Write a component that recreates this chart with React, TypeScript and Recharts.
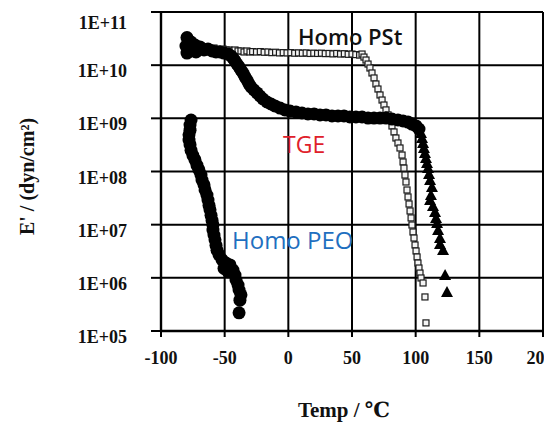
import React from "react";
import { ScatterChart, Scatter, XAxis, YAxis, CartesianGrid, Label } from "recharts";

// Temperature (°C), storage modulus E' (dyn/cm²)
const homoPSt: [number, number][] = [
  [-80.4, 2.5e10], [-78.8, 2.73e10], [-77.2, 2.29e10], [-74.9, 2.39e10], [-72.5, 2.2e10],
  [-70.2, 2.29e10], [-67.8, 2.1e10], [-65.4, 2.2e10], [-63.1, 2.1e10], [-60.7, 2.01e10],
  [-58.4, 2.1e10], [-56.0, 2.01e10], [-53.7, 1.93e10], [-51.3, 2.01e10], [-48.9, 1.93e10],
  [-46.6, 1.93e10], [-44.2, 1.85e10], [-41.9, 1.93e10], [-39.5, 1.85e10], [-37.2, 1.85e10],
  [-34.8, 1.77e10], [-32.5, 1.85e10], [-30.1, 1.77e10], [-28, 1.8e10], [-25, 1.77e10],
  [-22, 1.8e10], [-19, 1.75e10], [-16, 1.77e10], [-13, 1.72e10], [-10, 1.75e10],
  [-7, 1.7e10], [-4, 1.72e10], [-1, 1.7e10], [2, 1.72e10], [5, 1.68e10], [8, 1.7e10],
  [11, 1.68e10], [14, 1.7e10], [17, 1.66e10], [20, 1.68e10], [23, 1.66e10], [26, 1.68e10],
  [29, 1.65e10], [32, 1.66e10], [35, 1.63e10], [38, 1.66e10], [41, 1.62e10], [44, 1.64e10],
  [47, 1.6e10], [50, 1.62e10], [53, 1.58e10], [56, 1.55e10], [57.9, 1.62e10], [59.4, 1.42e10],
  [61.0, 1.25e10], [62.6, 1.05e10], [64.1, 8.85e9], [65.7, 7.13e9], [67.3, 5.74e9],
  [68.8, 4.43e9], [70.4, 3.56e9], [72.0, 2.75e9], [73.6, 2.21e9], [75.1, 1.78e9],
  [76.7, 1.44e9], [78.3, 1.16e9], [79.8, 9.31e8], [81.4, 7.18e8], [83.0, 5.54e8],
  [84.5, 4.27e8], [86.1, 3.44e8], [87.7, 2.77e8], [89.3, 2.04e8], [90.1, 1.51e8],
  [90.8, 1.16e8], [91.6, 8.59e7], [92.4, 6.35e7], [93.2, 4.49e7], [94.0, 3.32e7],
  [94.8, 2.45e7], [95.6, 1.81e7], [96.4, 1.34e7], [97.1, 9.86e6], [97.9, 7.28e6],
  [98.7, 5.61e6], [99.5, 4.15e6], [100.3, 3.2e6], [101.1, 2.47e6], [101.8, 1.9e6],
  [102.6, 1.53e6], [103.4, 1.23e6], [104.2, 9.94e5], [105.8, 8.0e5], [107.3, 4.37e5],
  [108.1, 1.42e5],
];

const tgeCircles: [number, number][] = [
  [-79.6, 3.3e10], [-80.4, 2.29e10], [-79.6, 1.69e10], [-76.4, 2.73e10], [-76.4, 1.85e10],
  [-73.3, 2.39e10], [-72.5, 1.77e10], [-69.4, 2.2e10], [-66.2, 1.93e10], [-63.1, 2.01e10],
  [-59.9, 1.85e10], [-56.8, 1.77e10], [-53.7, 1.77e10], [-50.5, 1.69e10], [-47.4, 1.62e10],
  [-45.0, 1.49e10], [-43.5, 1.36e10], [-41.9, 1.2e10], [-40.3, 1.05e10], [-38.7, 9.25e9],
  [-37.2, 8.1e9], [-35.6, 7.1e9], [-34.0, 6.0e9], [-32.5, 5.26e9], [-30.9, 4.43e9],
  [-29.3, 3.88e9], [-27.0, 3.41e9], [-24.6, 3.0e9], [-22.3, 2.63e9], [-19.9, 2.31e9],
  [-16.8, 2.03e9], [-13.6, 1.86e9], [-10.5, 1.71e9], [-6.5, 1.56e9], [-2.6, 1.44e9],
  [1.3, 1.37e9], [6.0, 1.32e9], [10.7, 1.26e9], [15.4, 1.21e9], [20.2, 1.21e9],
  [24.9, 1.16e9], [29.6, 1.16e9], [34.3, 1.11e9], [39.0, 1.11e9], [43.7, 1.11e9],
  [48.4, 1.06e9], [53.1, 1.06e9], [57.9, 1.06e9], [62.6, 1.01e9], [67.3, 1.01e9],
  [72.0, 1.01e9], [76.7, 1.01e9], [81.4, 9.7e8], [86.1, 9.3e8], [90.1, 8.9e8],
  [94.0, 8.5e8], [97.1, 7.8e8], [100.3, 7.2e8], [102.6, 6.3e8],
];

const tgeTriangles: [number, number][] = [
  [104.2, 5.3e8], [105.0, 4.27e8], [105.8, 3.44e8], [106.5, 2.77e8], [107.3, 2.23e8],
  [108.1, 1.79e8], [108.9, 1.45e8], [109.7, 1.16e8], [110.5, 8.98e7], [111.3, 6.92e7],
  [112.8, 5.12e7], [112.0, 3.61e7], [111.3, 2.91e7], [113.6, 2.25e7], [115.2, 1.73e7],
  [116.0, 1.34e7], [116.8, 1.08e7], [117.6, 7.94e6], [119.1, 5.61e6], [119.1, 4.33e6],
  [121.5, 3.34e6], [123.1, 1.13e6], [124.6, 5.42e5],
];

const homoPEO: [number, number][] = [
  [-76.4, 9.3e8], [-77.2, 7.5e8], [-77.2, 6.0e8], [-78.0, 4.9e8], [-78.0, 3.9e8],
  [-77.2, 3.2e8], [-76.4, 2.5e8], [-74.9, 2.0e8], [-73.3, 1.65e8], [-71.7, 1.3e8],
  [-70.2, 1.07e8], [-68.6, 8.6e7], [-67.8, 6.9e7], [-66.2, 5.6e7], [-65.4, 4.5e7],
  [-63.9, 3.6e7], [-63.1, 2.9e7], [-62.3, 2.3e7], [-61.5, 1.9e7], [-60.7, 1.5e7],
  [-59.9, 1.2e7], [-59.2, 9.9e6], [-59.2, 7.9e6], [-58.4, 6.4e6], [-57.6, 5.2e6],
  [-56.8, 4.1e6], [-56.0, 3.3e6], [-54.4, 2.7e6], [-52.1, 2.2e6], [-48.9, 1.9e6],
  [-45.8, 1.75e6], [-50.5, 1.5e6], [-43.5, 1.4e6], [-47.4, 1.3e6], [-41.9, 1.13e6],
  [-41.1, 9.1e5], [-39.5, 7.3e5], [-38.7, 5.9e5], [-37.2, 4.8e5], [-38.0, 3.8e5],
  [-38.7, 2.2e5],
];

const xTicks = [-100, -50, 0, 50, 100, 150, 200];
const yTicks = [1e5, 1e6, 1e7, 1e8, 1e9, 1e10, 1e11];
const yTickLabels = ["1E+05", "1E+06", "1E+07", "1E+08", "1E+09", "1E+10", "1E+11"];

const toPts = (arr: [number, number][]) => arr.map(([t, e]) => ({ t, e }));

const serif = "'Liberation Serif', 'Times New Roman', 'DejaVu Serif', serif";
const sans = "'Open Sans', 'Noto Sans', sans-serif";

const XTick = (props: any) => {
  const { x, y, payload } = props;
  return (
    <text x={x} y={y + 21} textAnchor="middle" dominantBaseline="central"
      fontFamily={serif} fontWeight="bold" fontSize={18} fill="#111">
      {payload.value}
    </text>
  );
};

const YTick = (props: any) => {
  const { x, y, payload } = props;
  const i = yTicks.findIndex((v) => Math.abs(Math.log10(v) - Math.log10(payload.value)) < 1e-6);
  return (
    <text x={x - 24} y={y + 6} textAnchor="end" dominantBaseline="central"
      fontFamily={serif} fontWeight="bold" fontSize={18} fill="#111">
      {i >= 0 ? yTickLabels[i] : ""}
    </text>
  );
};

const Circle = (r: number) => (p: any) => <circle cx={p.cx} cy={p.cy} r={r} fill="#000" />;
const Square = (p: any) => (
  <rect x={p.cx - 3} y={p.cy - 3} width={6} height={6} fill="#f4f4f4" stroke="#1a1a1a" strokeWidth={1.2} />
);
const Triangle = (p: any) => (
  <polygon points={`${p.cx},${p.cy - 6} ${p.cx - 6},${p.cy + 5} ${p.cx + 6},${p.cy + 5}`} fill="#000" />
);

export default function App() {
  return (
    <div style={{ position: "relative", width: 544, height: 415 }}>
      <ScatterChart width={544} height={415} margin={{ top: 4, right: 9, bottom: 0, left: 0 }}>
        <CartesianGrid stroke="#000" strokeWidth={2} />
        <XAxis type="number" dataKey="t" domain={[-100, 200]} ticks={xTicks} height={92}
          tickSize={6} tickMargin={0} tick={XTick} allowDataOverflow
          axisLine={{ stroke: "#000", strokeWidth: 2.4 }} tickLine={{ stroke: "#000", strokeWidth: 2 }}>
          <Label value="Temp /  ℃" position="insideBottom" offset={6} dx={-8}
            style={{ fontFamily: serif, fontWeight: "bold", fontSize: 21, fill: "#111" }} />
        </XAxis>
        <YAxis type="number" dataKey="e" scale="log" domain={[1e5, 1e11]} ticks={yTicks} width={153}
          tickSize={10} tickMargin={0} tick={YTick} allowDataOverflow
          axisLine={{ stroke: "#000", strokeWidth: 2.4 }} tickLine={{ stroke: "#000", strokeWidth: 2 }}>
          <Label value="E' / (dyn/cm²)" position="insideLeft" angle={-90} offset={19} dy={5}
            style={{ textAnchor: "middle", fontFamily: serif, fontWeight: "bold", fontSize: 20, fill: "#111" }} />
        </YAxis>
        <Scatter name="Homo PSt" data={toPts(homoPSt)} shape={Square} isAnimationActive={false} />
        <Scatter name="TGE" data={toPts(tgeCircles)} shape={Circle(6.5)} isAnimationActive={false} />
        <Scatter name="TGE (high T)" data={toPts(tgeTriangles)} shape={Triangle} isAnimationActive={false} />
        <Scatter name="Homo PEO" data={toPts(homoPEO)} shape={Circle(6.5)} isAnimationActive={false} />
      </ScatterChart>
      <svg width={544} height={415} style={{ position: "absolute", left: 0, top: 0, pointerEvents: "none" }}>
        <text x={290} y={37} fontFamily={sans} fontWeight={600} fontSize={22} fill="#111">Homo PSt</text>
        <text x={275} y={145} fontFamily={sans} fontWeight={500} fontSize={23} fill="#e0202a">TGE</text>
        <text x={224} y={241} fontFamily={sans} fontWeight={500} fontSize={24} fill="#1f6fc0">Homo PEO</text>
      </svg>
    </div>
  );
}
